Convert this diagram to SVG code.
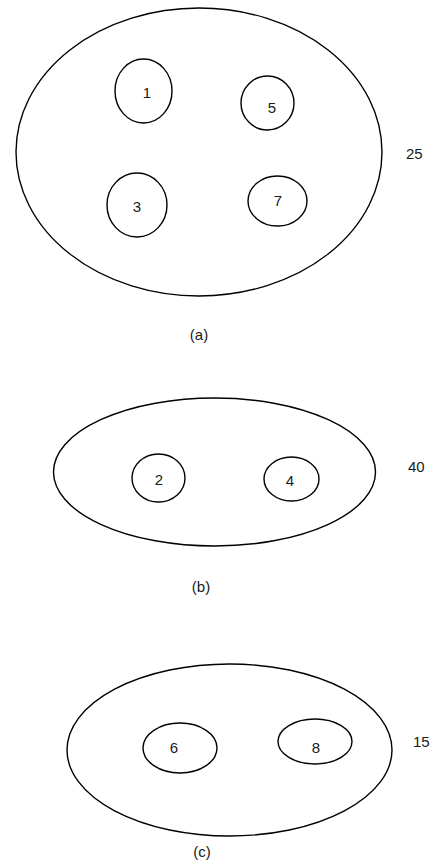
<svg xmlns="http://www.w3.org/2000/svg" width="435" height="863" viewBox="0 0 435 863">
<style>
.e{fill:none;stroke:#000;stroke-width:1.4}
.t{font-family:"Liberation Sans",Arial,sans-serif;font-size:15px;fill:#1a1a1a;text-anchor:middle}
</style>
<rect width="435" height="863" fill="#fff"/>
<g id="set-a">
<ellipse class="e" cx="199" cy="152" rx="183" ry="144"/>
<text class="t" x="406" y="159" style="text-anchor:start">25</text>
<text class="t" x="199" y="340">(a)</text>
</g>
<g id="n1"><ellipse class="e" cx="143.5" cy="91" rx="28.5" ry="32"/><text class="t" x="147" y="98">1</text></g>
<g id="n5"><ellipse class="e" cx="267.5" cy="103" rx="26.5" ry="27"/><text class="t" x="272" y="113">5</text></g>
<g id="n3"><ellipse class="e" cx="137" cy="205" rx="30" ry="32"/><text class="t" x="137" y="212">3</text></g>
<g id="n7"><ellipse class="e" cx="277.5" cy="201" rx="29.5" ry="25"/><text class="t" x="278" y="206">7</text></g>

<g id="set-b">
<ellipse class="e" cx="214.5" cy="472" rx="161" ry="74"/>
<text class="t" x="408" y="472" style="text-anchor:start">40</text>
<text class="t" x="201" y="592">(b)</text>
</g>
<g id="n2"><ellipse class="e" cx="158.5" cy="478" rx="26.5" ry="24"/><text class="t" x="159" y="485">2</text></g>
<g id="n4"><ellipse class="e" cx="291.5" cy="479" rx="27.5" ry="22"/><text class="t" x="290" y="486">4</text></g>

<g id="set-c">
<ellipse class="e" cx="229.5" cy="750" rx="162.5" ry="86"/>
<text class="t" x="413" y="747" style="text-anchor:start">15</text>
<text class="t" x="202" y="857">(c)</text>
</g>
<g id="n6"><ellipse class="e" cx="180" cy="748" rx="37" ry="25"/><text class="t" x="174" y="753">6</text></g>
<g id="n8"><ellipse class="e" cx="315" cy="741.5" rx="37" ry="22.5"/><text class="t" x="316" y="753">8</text></g>
</svg>
